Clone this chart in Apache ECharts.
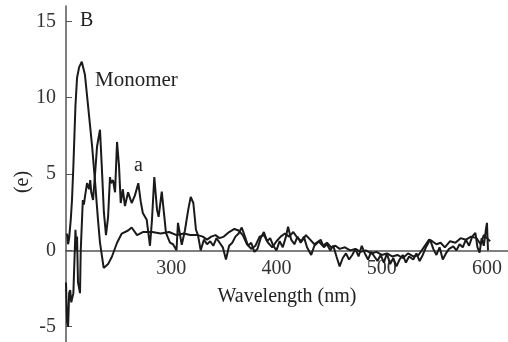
<!DOCTYPE html>
<html>
<head>
<meta charset="utf-8">
<script src="https://cdn.jsdelivr.net/npm/echarts@6/dist/echarts.min.js"></script>
<style>
  html, body { margin: 0; padding: 0; background: #fff; }
  #chart { width: 508px; height: 342px; }
</style>
</head>
<body>
<div id="chart"></div>
<script>
// wavelength (nm) and value pairs
var monomerX = [201, 202, 203, 204.5, 205.7, 207, 208, 209, 210.5, 212.5, 215, 218, 221.5, 224.7, 227.6, 230.4, 232.3, 235.8, 240, 243.7, 248.5, 253, 259, 262.4, 267.5, 273, 282, 290, 298, 305, 312, 318, 325, 330, 334, 338, 342, 346, 350, 355, 360, 364, 368, 372, 376, 380, 384, 388, 392, 396, 400, 404, 408, 412, 416, 420, 424, 428, 432, 436, 440, 444, 448, 452, 456, 460, 465, 470, 475, 480, 485, 490, 495, 500, 505, 510, 515, 520, 525, 530, 535, 540, 545, 548, 552, 556, 560, 565, 570, 575, 580, 585, 590, 594, 597, 600, 603]
var monomerY = [1.1, 0.4, 0.8, 2.0, 3.3, 5.5, 7.5, 9.5, 11.3, 12.0, 12.35, 11.5, 9.1, 6.9, 4.5, 2.0, 0.5, -1.15, -0.9, -0.4, 0.5, 1.1, 1.3, 1.5, 1.0, 1.2, 1.2, 1.1, 1.2, 1.0, 1.1, 1.0, 1.0, 0.9, 0.7, 0.9, 1.0, 0.8, 0.9, 1.2, 1.4, 1.3, 1.0, 0.4, 0.1, 0.3, 0.9, 1.0, 0.5, 0.2, 0.6, 0.9, 1.1, 0.9, 1.2, 0.8, 0.6, 1.0, 0.7, 0.4, 0.6, 0.3, 0.5, 0.2, 0.3, 0.1, 0.2, 0.0, 0.1, -0.1, 0.0, -0.2, -0.1, -0.3, -0.2, -0.4, -0.3, -0.5, -0.2, -0.4, -0.3, 0.2, 0.7, 0.6, 0.4, 0.5, 0.2, 0.6, 0.5, 0.8, 0.7, 0.9, 0.8, 0.4, 1.0, 0.8, 0.6]

var aX = [200, 201, 202, 203, 204, 205, 207, 209, 210, 210.5, 211.4, 213.3, 214, 216, 217, 218, 220, 222, 223, 224, 225.7, 227.6, 229.5, 232.3, 234, 236, 238, 240, 241.8, 242.8, 244.7, 246.6, 248.5, 250.4, 252, 254, 256, 259, 262.4, 265.5, 268.7, 271, 273, 276.7, 279.8, 281.7, 283.9, 286.5, 288, 291, 293, 295, 298.8, 301.7, 305, 306.4, 310, 313, 316, 318.5, 321, 323.5, 325.4, 328, 331, 334, 337, 340, 343, 346, 349, 352, 355, 358, 361, 364, 367, 370, 373, 376, 379, 382, 385, 388, 391, 394, 397, 400, 403, 406, 409, 411, 414, 417, 420, 423, 426, 429, 433, 436, 439, 442, 445, 448, 451, 454, 457, 460, 463, 466, 469, 472, 475, 478, 481, 484, 487, 490, 493, 496, 499, 502, 505, 508, 511, 514, 517, 520, 523, 526, 530, 533, 536, 539, 542, 546, 549, 552, 555, 558, 561, 564, 568, 571, 574, 577, 580, 583, 586, 589, 591, 593, 595, 597, 599, 600, 601]
var aY = [-2.1, -4.7, -5.0, -2.8, -2.6, -3.4, -2.8, 1.35, 0, 0.9, -2.1, -2.8, 0, 3.3, 3.0, 3.5, 4.4, 4.0, 4.6, 3.8, 3.3, 5.0, 6.8, 7.9, 5.5, 2.5, 1.0, 2.2, 4.8, 4.4, 4.6, 3.8, 7.1, 5.5, 3.1, 4.0, 2.9, 3.8, 3.1, 3.6, 4.4, 3.2, 2.45, 2.0, 0.3, 2.0, 4.8, 2.65, 2.2, 3.85, 2.5, 1.15, 0.5, 0.4, 0, 1.8, 0.37, 1.3, 2.6, 3.5, 3.1, 1.35, 1.0, 0.0, 0.7, 0.4, 0.6, 0.3, 0.8, 0.5, 0.2, -0.6, 0.3, 0.5, 0.9, 1.1, 1.5, 0.9, 0.3, 0.5, -0.1, 0.1, 0.8, 1.2, 0.6, 0.8, 0.3, 0.0, 0.6, 0.2, 0.9, 1.55, 0.7, 0.4, 0.9, 0.5, 0.9, 0.2, -0.3, 0.3, 0.5, 0.7, 0.2, 0.4, 0.0, 0.3, -0.4, -1.05, -0.5, -0.2, -0.6, -0.3, 0.1, -0.4, 0.3, -0.2, -0.6, -0.1, -0.4, -0.7, -0.3, -0.8, -0.2, -0.9, -0.5, -1.05, -0.6, -0.3, -0.8, -0.4, -0.6, -0.2, -0.7, -0.3, 0.2, 0.7, 0.1, -0.3, 0.2, -0.6, -0.2, 0.1, 0.26, 0.0, 0.4, 0.2, 0.7, 0.3, 0.9, 1.15, 0.2, -0.15, 0.8, 0.3, 1.35, 1.8, 0.0]

var yTicks = [-5, 0, 5, 10, 15]
var xTicks = [300, 400, 500, 600]

function pairs (xs, ys) {
  return xs.map(function (x, i) { return [x, ys[i]] })
}

var font = 'Liberation Serif, Times New Roman, serif'
var chart = echarts.init(document.getElementById('chart'))
var option = {
  animation: false,
  grid: { left: 66, right: 0, top: 6, bottom: 0, containLabel: false, outerBoundsMode: 'none' },
  xAxis: {
    type: 'value',
    min: 200,
    max: 620,
    position: 'bottom',
    // lift the axis from the grid bottom (-6) up to the zero line
    offset: -91.6,
    name: 'Wavelength (nm)',
    nameLocation: 'middle',
    nameGap: 36,
    nameMoveOverlap: false,
    nameTextStyle: { fontFamily: font, fontSize: 20, color: '#222' },
    axisLine: { onZero: false, lineStyle: { color: '#555', width: 1.5 } },
    axisTick: { show: false },
    axisLabel: { customValues: xTicks, fontFamily: font, fontSize: 20, color: '#333', margin: 8 },
    splitLine: { show: false }
  },
  yAxis: {
    type: 'value',
    min: -6,
    max: 16,
    name: '(e)',
    nameLocation: 'middle',
    nameGap: 33,
    nameMoveOverlap: false,
    nameTextStyle: { fontFamily: font, fontSize: 20, color: '#222', padding: [0, 0, 0, -16] },
    axisLine: { show: true, onZero: false, lineStyle: { color: '#555', width: 1.5 } },
    axisTick: { show: true, inside: true, length: 6, customValues: yTicks, lineStyle: { color: '#555' } },
    axisLabel: { customValues: yTicks, fontFamily: font, fontSize: 20, color: '#333', margin: 10 },
    splitLine: { show: false }
  },
  graphic: [
    { type: 'text', left: 80, top: 11, style: { text: 'B', font: '20px ' + font, fill: '#222' } },
    { type: 'text', left: 95, top: 70, style: { text: 'Monomer', font: '21px ' + font, fill: '#222' } },
    { type: 'text', left: 134, top: 156, style: { text: 'a', font: '20px ' + font, fill: '#222' } }
  ],
  series: [
    {
      name: 'Monomer',
      type: 'line',
      data: pairs(monomerX, monomerY),
      showSymbol: false,
      lineStyle: { color: '#1a1a1a', width: 2 }
    },
    {
      name: 'a',
      type: 'line',
      data: pairs(aX, aY),
      showSymbol: false,
      lineStyle: { color: '#1a1a1a', width: 2 }
    }
  ]
}
chart.setOption(option)
</script>
</body>
</html>
